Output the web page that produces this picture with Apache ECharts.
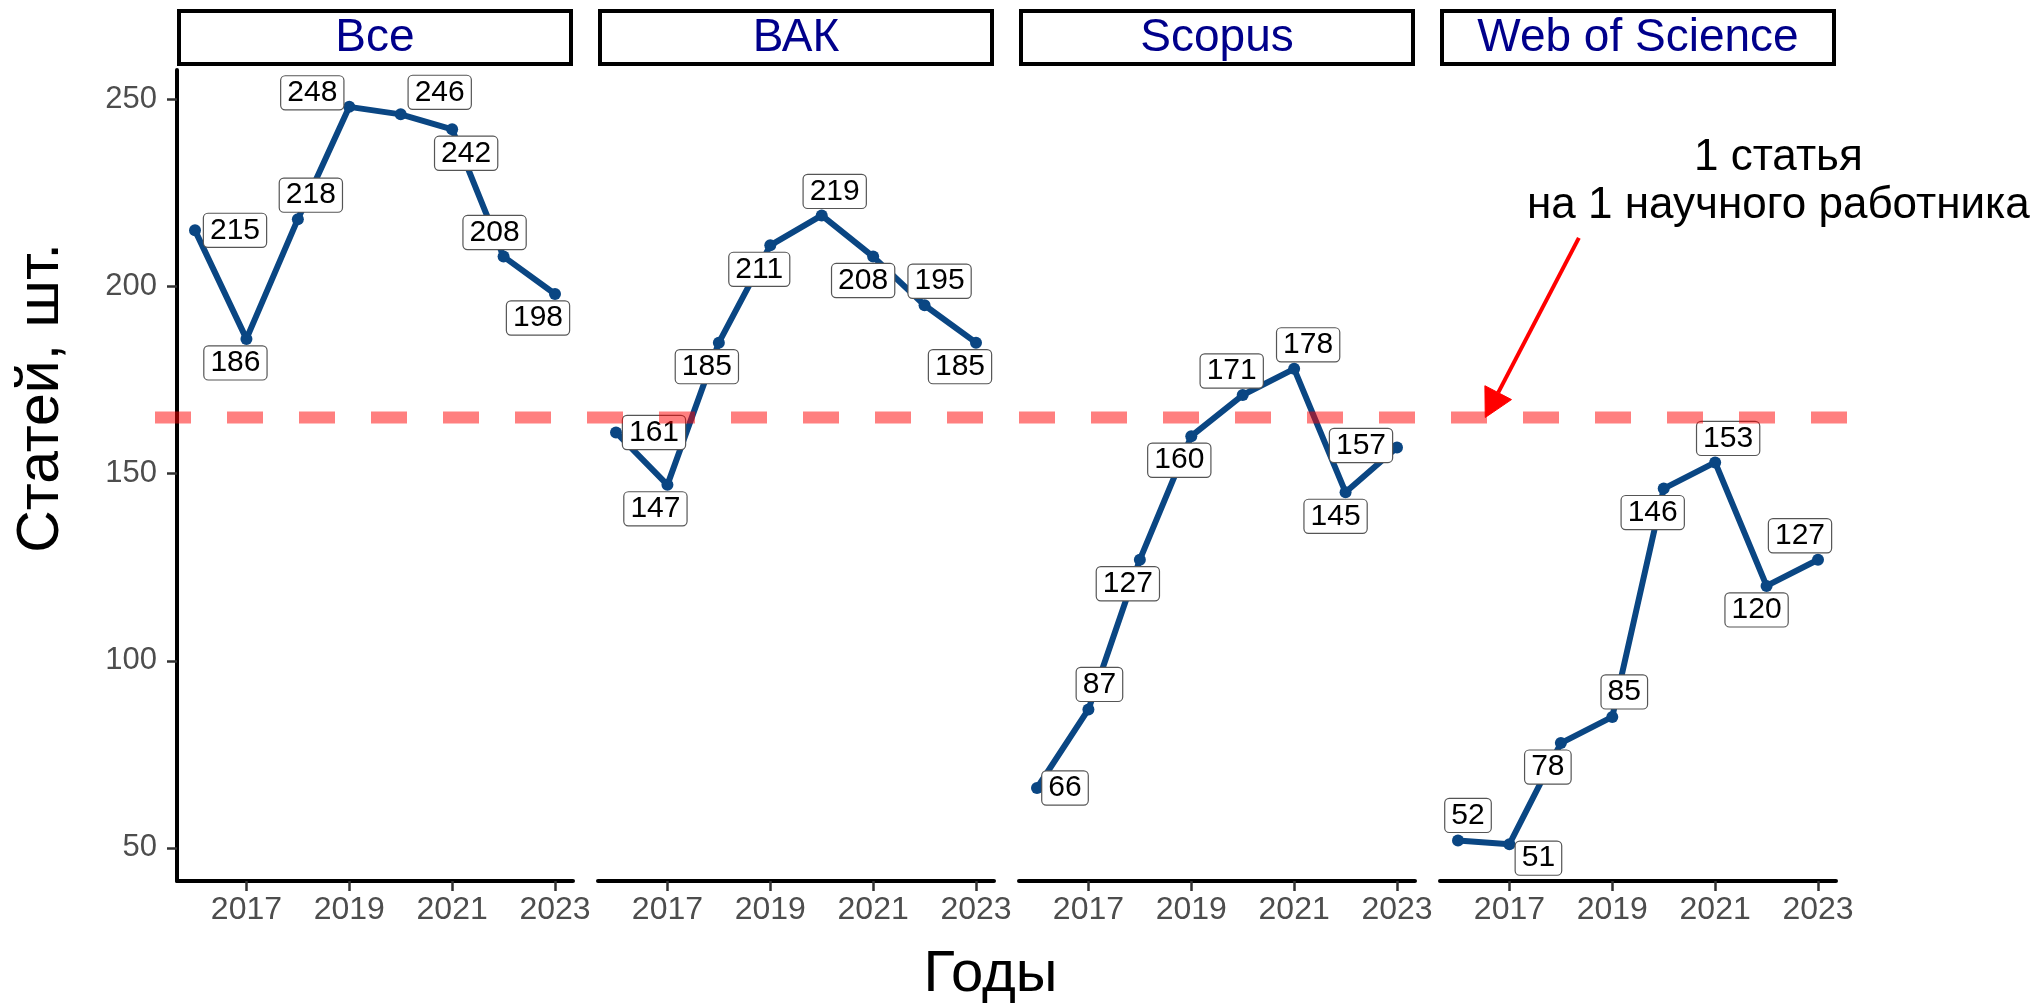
<!DOCTYPE html>
<html>
<head>
<meta charset="utf-8">
<script src="https://cdn.jsdelivr.net/npm/echarts@6/dist/echarts.min.js"></script>
<style>
  html, body { margin: 0; padding: 0; background: #fff; }
  #chart { width: 2038px; height: 1004px; }
</style>
</head>
<body>
<div id="chart"></div>
<script>
// Publications per year, split by indexing database
const years = [2016, 2017, 2018, 2019, 2020, 2021, 2022, 2023];
const panelNames = ['Все', 'ВАК', 'Scopus', 'Web of Science'];
const allArticles = [215, 186, 218, 248, 246, 242, 208, 198];
const vakArticles = [161, 147, 185, 211, 219, 208, 195, 185];
const scopusArticles = [66, 87, 127, 160, 171, 178, 145, 157];
const wosArticles = [52, 51, 78, 85, 146, 153, 120, 127];
const yearTicks = [2017, 2019, 2021, 2023];
const countTicks = [50, 100, 150, 200, 250];
const articlesPerResearcher = 165;
const noteLines = ['1 статья', 'на 1 научного работника'];
const xTitle = 'Годы';
const yTitle = 'Статей, шт.';

// Pixel nudges that keep each value box clear of the line
const labelNudge = [
  [[40, 0], [-11, 24], [13, -24], [-37, -14], [39, -22], [14, 24], [-9, -24], [-17, 24]],
  [[38, 0], [-12, 24], [-12, 24], [-11, 24], [13, -24], [-10, 24], [15, -24], [-16, 24]],
  [[28, 0], [11, -25], [-12, 24], [-12, 24], [-11, -24], [14, -24], [-10, 24], [-36, -2]],
  [[10, -25], [29, 14], [-13, 24], [12, -25], [-11, 24], [13, -24], [-10, 24], [-18, -24]]
];

// Arrow and note placement, in the last panel's data units
const arrowFrom = [2018.35, 213];
const arrowTo = [2016.53, articlesPerResearcher];
const notePos = [2022.23, 228];

const seriesValues = [allArticles, vakArticles, scopusArticles, wosArticles];
const lineColor = '#0A4683';
const font = '"Liberation Sans", Arial, Helvetica, sans-serif';
const xMin = 2015.65, xMax = 2023.35, yMin = 41.15, yMax = 257.85;
const panelLeft = 177, panelStep = 421, panelWidth = 396, panelTop = 70, panelHeight = 811;

const chart = echarts.init(document.getElementById('chart'), null, { renderer: 'canvas' });

const grids = [], xAxes = [], yAxes = [], series = [];
panelNames.forEach((name, i) => {
  grids.push({ left: panelLeft + panelStep * i, top: panelTop, width: panelWidth, height: panelHeight });
  xAxes.push({
    type: 'value', gridIndex: i, min: xMin, max: xMax,
    axisLine: { show: true, onZero: false, lineStyle: { color: '#000', width: 4 } },
    axisTick: { show: true, customValues: yearTicks, length: 10, lineStyle: { color: '#333', width: 2.5 } },
    axisLabel: { show: true, customValues: yearTicks, fontSize: 32, color: '#4D4D4D', margin: 13,
                 fontFamily: font, formatter: v => String(v) },
    splitLine: { show: false }
  });
  yAxes.push({
    type: 'value', gridIndex: i, min: yMin, max: yMax, show: i === 0,
    axisLine: { show: true, onZero: false, lineStyle: { color: '#000', width: 4 } },
    axisTick: { show: true, customValues: countTicks, length: 10, lineStyle: { color: '#333', width: 2.5 } },
    axisLabel: { show: true, customValues: countTicks, fontSize: 31, color: '#4D4D4D', margin: 20,
                 fontFamily: font, formatter: v => String(v) },
    splitLine: { show: false }
  });
  series.push({
    type: 'line', name: name, xAxisIndex: i, yAxisIndex: i,
    data: years.map((y, k) => ({ value: [y, seriesValues[i][k]], label: { offset: labelNudge[i][k] } })),
    symbol: 'circle', symbolSize: 12,
    lineStyle: { color: lineColor, width: 6 },
    itemStyle: { color: lineColor },
    label: {
      show: true, position: 'inside', formatter: p => String(p.value[1]),
      fontSize: 30, lineHeight: 27, fontFamily: font, color: '#000',
      backgroundColor: '#fff', borderColor: '#555', borderWidth: 1.2, borderRadius: 4,
      padding: [3, 6]
    },
    emphasis: { disabled: true },
    silent: true
  });
});

chart.setOption({
  animation: false,
  backgroundColor: '#fff',
  grid: grids, xAxis: xAxes, yAxis: yAxes, series: series
});

// Facet strips, axis titles, reference line and its note
const graphics = [];
panelNames.forEach((name, i) => {
  const left = panelLeft + panelStep * i;
  graphics.push({
    type: 'rect', z: 50,
    shape: { x: left + 2, y: 11, width: panelWidth - 4, height: 53 },
    style: { fill: '#fff', stroke: '#000', lineWidth: 4 }
  });
  graphics.push({
    type: 'text', z: 51, x: left + panelWidth / 2, y: 38,
    style: { text: name, fill: '#00008B', fontSize: 46, fontFamily: font, align: 'center', verticalAlign: 'middle' }
  });
});

const refY = chart.convertToPixel({ yAxisIndex: 0 }, articlesPerResearcher);
const firstLeft = panelLeft;
const lastRight = panelLeft + panelStep * 3 + panelWidth;
graphics.push({
  type: 'line', z: 100,
  shape: { x1: firstLeft - 22, y1: refY, x2: lastRight + 14, y2: refY },
  style: { stroke: 'rgba(255,0,0,0.5)', lineWidth: 12, lineDash: [36, 36], lineCap: 'butt' }
});

const p0 = chart.convertToPixel({ gridIndex: 3 }, arrowFrom);
const p1 = chart.convertToPixel({ gridIndex: 3 }, arrowTo);
const dx = p1[0] - p0[0], dy = p1[1] - p0[1];
const len = Math.hypot(dx, dy);
const ux = dx / len, uy = dy / len;
const headLen = 28, headHalf = 15;
const bx = p1[0] - ux * headLen, by = p1[1] - uy * headLen;
graphics.push({
  type: 'line', z: 101,
  shape: { x1: p0[0], y1: p0[1], x2: bx, y2: by },
  style: { stroke: '#FF0000', lineWidth: 4 }
});
graphics.push({
  type: 'polygon', z: 101,
  shape: { points: [[p1[0], p1[1]], [bx - uy * headHalf, by + ux * headHalf], [bx + uy * headHalf, by - ux * headHalf]] },
  style: { fill: '#FF0000', stroke: '#FF0000', lineWidth: 1 }
});

const np = chart.convertToPixel({ gridIndex: 3 }, notePos);
graphics.push({
  type: 'text', z: 101, x: np[0], y: np[1],
  style: { text: noteLines.join('\n'), fill: '#000', fontSize: 44, lineHeight: 48, fontFamily: font,
           align: 'center', verticalAlign: 'middle' }
});

graphics.push({
  type: 'text', z: 60, x: (firstLeft + lastRight) / 2 - 16, y: 975,
  style: { text: xTitle, fill: '#000', fontSize: 58, fontFamily: font, align: 'center', verticalAlign: 'middle' }
});
graphics.push({
  type: 'text', z: 60, x: 42, y: 398, rotation: Math.PI / 2,
  style: { text: yTitle, fill: '#000', fontSize: 59, fontFamily: font, align: 'center', verticalAlign: 'middle' }
});

chart.setOption({ graphic: graphics });
</script>
</body>
</html>
